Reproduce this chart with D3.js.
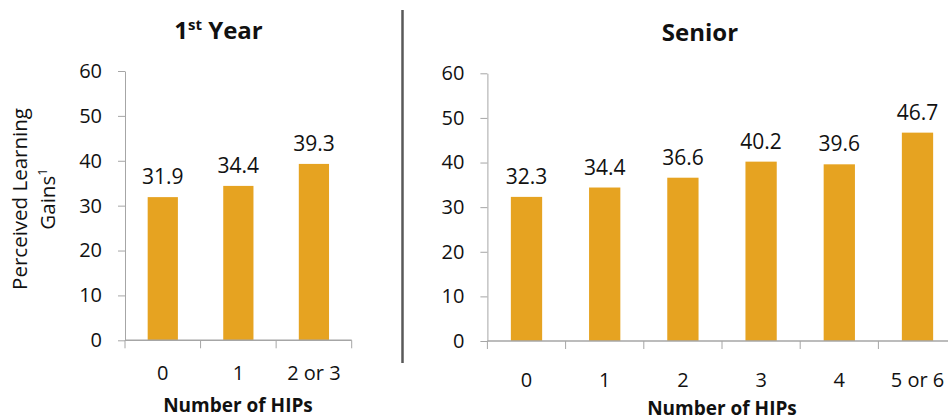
<!DOCTYPE html>
<html>
<head>
<meta charset="utf-8">
<script src="https://cdn.jsdelivr.net/npm/d3@7"></script>
<style>
  html, body { margin: 0; padding: 0; background: #fff; }
  svg { display: block; font-family: "Open Sans", "Noto Sans", sans-serif; }
</style>
</head>
<body>
<svg id="chart" width="948" height="420"></svg>
<script>
// Perceived learning gains by number of high-impact practices (HIPs)
const firstYearCategories = ["0", "1", "2 or 3"];
const firstYearValues = [31.9, 34.4, 39.3];
const seniorCategories = ["0", "1", "2", "3", "4", "5 or 6"];
const seniorValues = [32.3, 34.4, 36.6, 40.2, 39.6, 46.7];
const yTickValues = [0, 10, 20, 30, 40, 50, 60];

const BAR_COLOR = "#E6A321";
const AXIS_COLOR = "#A6A6A6";
const TEXT_COLOR = "#111";
const FONT = "'Open Sans', 'Noto Sans', sans-serif";

const svg = d3.select("#chart");

const panels = [
  {
    categories: firstYearCategories,
    values: firstYearValues,
    xRange: [125, 351.7],
    yRange: [340.3, 71],
    titleX: 218.5, titleY: 39,
    catY: 380,
    xTitleX: 238, xTitleY: 412,
    title: (t) => {
      t.append("tspan").text("1");
      t.append("tspan").attr("font-size", 15).attr("dy", -9).text("st");
      t.append("tspan").attr("dy", 9).text(" Year");
    }
  },
  {
    categories: seniorCategories,
    values: seniorValues,
    xRange: [487.4, 956.6],
    yRange: [341, 73.3],
    titleX: 700, titleY: 41,
    catY: 386.5,
    xTitleX: 722, xTitleY: 415,
    title: (t) => t.text("Senior")
  }
];

panels.forEach(p => {
  const x = d3.scaleBand().domain(p.categories).range(p.xRange).paddingInner(0).paddingOuter(0);
  const y = d3.scaleLinear().domain([0, 60]).range(p.yRange);
  const g = svg.append("g");

  // Y axis
  const yAxis = d3.axisLeft(y).tickValues(yTickValues).tickSize(7).tickPadding(16).tickSizeOuter(0);
  const yg = g.append("g").attr("transform", `translate(${p.xRange[0]},0)`).call(yAxis);
  yg.select(".domain").attr("stroke", AXIS_COLOR);
  yg.selectAll(".tick line").attr("stroke", AXIS_COLOR);
  yg.selectAll(".tick text")
    .attr("font-size", 20).attr("fill", TEXT_COLOR)
    .attr("font-family", FONT);

  // Bars
  const barW = x.bandwidth() * 0.4;
  g.selectAll("rect.bar").data(p.values).enter().append("rect")
    .attr("class", "bar")
    .attr("x", (d, i) => x(p.categories[i]) + (x.bandwidth() - barW) / 2)
    .attr("width", barW)
    .attr("y", d => y(d))
    .attr("height", d => y(0) - y(d))
    .attr("fill", BAR_COLOR);

  // Value labels
  g.selectAll("text.val").data(p.values).enter().append("text")
    .attr("class", "val")
    .attr("x", (d, i) => x(p.categories[i]) + x.bandwidth() / 2)
    .attr("y", d => y(d) - 13)
    .attr("text-anchor", "middle")
    .attr("font-size", 21)
    .attr("fill", TEXT_COLOR)
    .text(d => d.toFixed(1));

  // X axis line with boundary ticks
  const base = y(0);
  g.append("line")
    .attr("x1", p.xRange[0]).attr("x2", p.xRange[1])
    .attr("y1", base).attr("y2", base)
    .attr("stroke", AXIS_COLOR).attr("stroke-width", 1.5);
  const bounds = p.categories.map(c => x(c)).concat([p.xRange[1]]);
  g.selectAll("line.xt").data(bounds).enter().append("line")
    .attr("class", "xt")
    .attr("x1", d => d).attr("x2", d => d)
    .attr("y1", base).attr("y2", base + 8)
    .attr("stroke", AXIS_COLOR);

  // Category labels
  g.selectAll("text.cat").data(p.categories).enter().append("text")
    .attr("class", "cat")
    .attr("x", d => x(d) + x.bandwidth() / 2)
    .attr("y", p.catY)
    .attr("text-anchor", "middle")
    .attr("font-size", 20)
    .attr("fill", TEXT_COLOR)
    .text(d => d);

  // X axis title
  g.append("text")
    .attr("x", p.xTitleX).attr("y", p.xTitleY)
    .attr("text-anchor", "middle")
    .attr("font-size", 19).attr("font-weight", "bold")
    .attr("fill", TEXT_COLOR)
    .text("Number of HIPs");

  // Panel title
  const t = g.append("text")
    .attr("x", p.titleX).attr("y", p.titleY)
    .attr("text-anchor", "middle")
    .attr("font-size", 24).attr("font-weight", "bold")
    .attr("fill", TEXT_COLOR);
  p.title(t);
});

// Y axis title (two lines, rotated)
const yTitle = svg.append("text")
  .attr("transform", "translate(0,199) rotate(-90)")
  .attr("text-anchor", "middle")
  .attr("font-size", 20.5)
  .attr("fill", TEXT_COLOR);
yTitle.append("tspan").attr("x", 0).attr("y", 27).text("Perceived Learning");
const l2 = yTitle.append("tspan").attr("x", 0).attr("y", 54.5);
l2.append("tspan").text("Gains");
l2.append("tspan").attr("font-size", 13).attr("dy", -8).text("1");

// Divider between panels
svg.append("line")
  .attr("x1", 402.5).attr("x2", 402.5)
  .attr("y1", 10).attr("y2", 363)
  .attr("stroke", "#595959").attr("stroke-width", 2.5);
</script>
</body>
</html>
